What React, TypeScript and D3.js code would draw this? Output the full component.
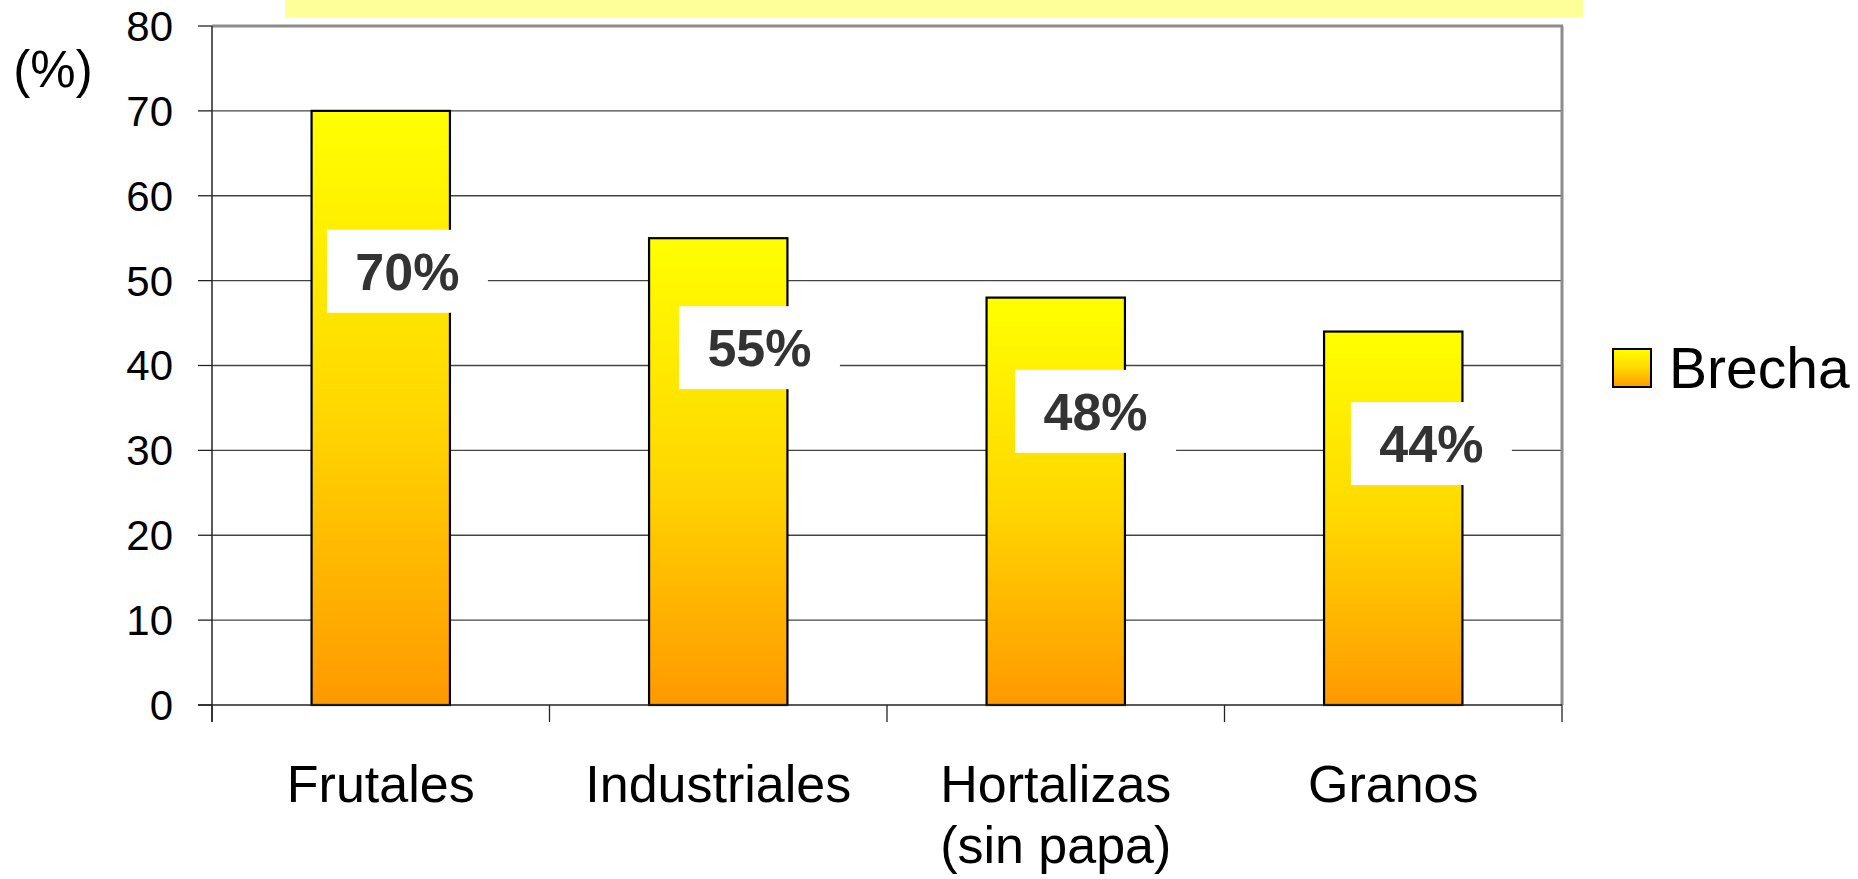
import React from "react";
import * as d3 from "d3";

const categories: string[][] = [["Frutales"], ["Industriales"], ["Hortalizas", "(sin papa)"], ["Granos"]];
const values: number[] = [70, 55, 48, 44];
const labels: string[] = ["70%", "55%", "48%", "44%"];
// label centers expressed in data units (y) and fraction of band step (x shift)
const labelAt: number[] = [51.1, 42.1, 34.6, 30.8];
const labelShift: number[] = [0.079, 0.122, 0.118, 0.113];
const yTicks: number[] = [0, 10, 20, 30, 40, 50, 60, 70, 80];
const seriesName = "Brecha";

const W = 1858;
const H = 879;
const FONT = "'Liberation Sans', Arial, Helvetica, sans-serif";

export default function App() {
  const left = 212;
  const right = 1562;
  const top = 26;
  const bottom = 705;

  const x = d3
    .scaleBand<number>()
    .domain(d3.range(categories.length))
    .range([left, right])
    .paddingInner(0.59)
    .paddingOuter(0.295);
  const step = (right - left) / categories.length;
  const y = d3.scaleLinear().domain([0, 80]).range([bottom, top]);

  const boxW = 161;
  const boxH = 83;

  return (
    <svg
      width={W}
      height={H}
      style={{ position: "absolute", left: 0, top: 0, background: "#fff" }}
      fontFamily={FONT}
    >
      <defs>
        <linearGradient id="barGrad" x1="0" y1="0" x2="0" y2="1">
          <stop offset="0%" stopColor="#FFFF00" />
          <stop offset="50%" stopColor="#FFD800" />
          <stop offset="100%" stopColor="#FF9900" />
        </linearGradient>
      </defs>

      {/* top yellow band */}
      <rect x={285} y={0} width={1583 - 285} height={17} fill="#FFFF99" />

      {/* gridlines */}
      {yTicks.slice(1, -1).map((t) => (
        <line key={"g" + t} x1={left} x2={right} y1={y(t)} y2={y(t)} stroke="#444" strokeWidth={1.3} />
      ))}
      {/* top and right frame (gray) */}
      <line x1={left} x2={right + 1} y1={top} y2={top} stroke="#8c8c8c" strokeWidth={3} />
      <line x1={right} x2={right} y1={top} y2={bottom} stroke="#8c8c8c" strokeWidth={3} />

      {/* bars */}
      {values.map((v, i) => (
        <rect
          key={"b" + i}
          x={x(i)!}
          y={y(v)}
          width={x.bandwidth()}
          height={y(0) - y(v)}
          fill="url(#barGrad)"
          stroke="#000"
          strokeWidth={2.2}
        />
      ))}

      {/* axes */}
      <line x1={left} x2={left} y1={top} y2={bottom + 17} stroke="#333" strokeWidth={1.6} />
      <line x1={left - 14} x2={right} y1={bottom} y2={bottom} stroke="#222" strokeWidth={1.6} />
      {yTicks.map((t) => (
        <g key={"t" + t}>
          <line x1={left - 14} x2={left} y1={y(t)} y2={y(t)} stroke="#222" strokeWidth={1.3} />
          <text x={173} y={y(t)} dy="0.355em" textAnchor="end" fontSize={42} fill="#000">
            {t}
          </text>
        </g>
      ))}
      {d3.range(categories.length + 1).map((i) => (
        <line
          key={"ct" + i}
          x1={left + i * step}
          x2={left + i * step}
          y1={bottom}
          y2={bottom + 17}
          stroke="#222"
          strokeWidth={1.3}
        />
      ))}
      <text x={53} y={69} dy="0.355em" textAnchor="middle" fontSize={51} fill="#000">
        (%)
      </text>

      {/* category labels */}
      {categories.map((lines, i) => (
        <text
          key={"c" + i}
          x={x(i)! + x.bandwidth() / 2}
          y={802}
          textAnchor="middle"
          fontSize={52}
          fill="#000"
        >
          {lines.map((l, j) => (
            <tspan key={j} x={x(i)! + x.bandwidth() / 2} dy={j === 0 ? 0 : 61}>
              {l}
            </tspan>
          ))}
        </text>
      ))}

      {/* data labels */}
      {labels.map((l, i) => {
        const cx = x(i)! + x.bandwidth() / 2 + labelShift[i] * step;
        const cy = y(labelAt[i]);
        return (
          <g key={"l" + i}>
            <rect x={cx - boxW / 2} y={cy - boxH / 2} width={boxW} height={boxH} fill="#fff" />
            <text x={cx} y={cy} dy="0.36em" textAnchor="middle" fontSize={52} fontWeight="bold" fill="#333">
              {l}
            </text>
          </g>
        );
      })}

      {/* legend */}
      <rect x={1613} y={349} width={38} height={38} fill="url(#barGrad)" stroke="#000" strokeWidth={2} />
      <text x={1669} y={388} fontSize={57} fill="#000">
        {seriesName}
      </text>
    </svg>
  );
}
